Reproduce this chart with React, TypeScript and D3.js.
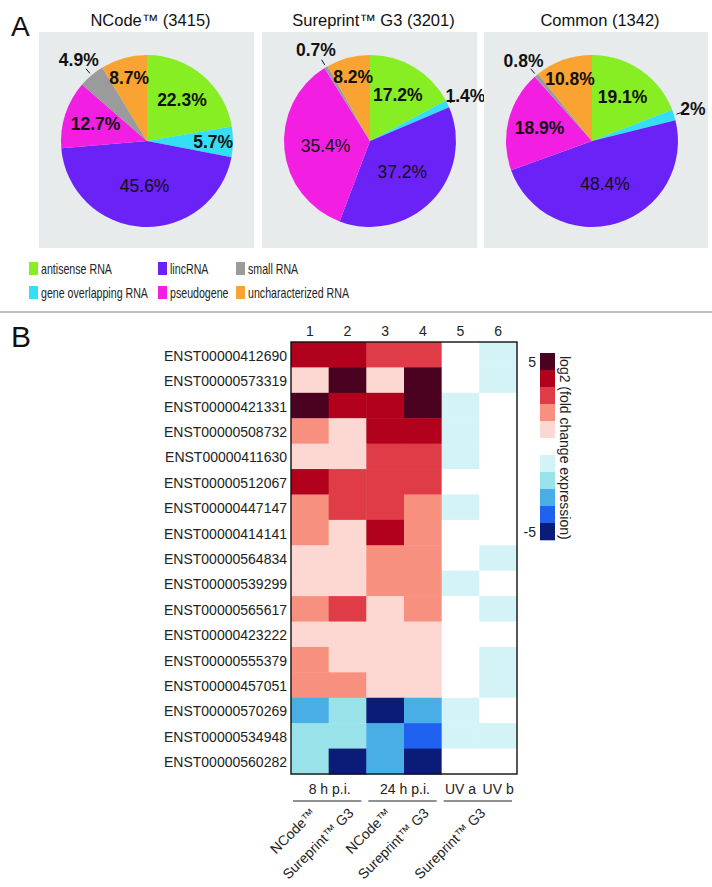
import React from "react";
import * as d3 from "d3";

// ---------- Panel A data ----------
const categories = [
  "antisense RNA",
  "gene overlapping RNA",
  "lincRNA",
  "pseudogene",
  "small RNA",
  "uncharacterized RNA",
];
const categoryColors = ["#86ee22", "#34def6", "#6b22f6", "#f21ee2", "#9b9b9b", "#f8a332"];
const pieTitles = ["NCode\u2122 (3415)", "Sureprint\u2122 G3 (3201)", "Common (1342)"];
const ncodeShares = [22.3, 5.7, 45.6, 12.7, 4.9, 8.7];
const sureprintShares = [17.2, 1.4, 37.2, 35.4, 0.7, 8.2];
const commonShares = [19.1, 2, 48.4, 18.9, 0.8, 10.8];
const legendOrder = [0, 2, 4, 1, 3, 5]; // row-major: row1 cols, row2 cols

// ---------- Panel B data ----------
const transcripts = [
  "ENST00000412690",
  "ENST00000573319",
  "ENST00000421331",
  "ENST00000508732",
  "ENST00000411630",
  "ENST00000512067",
  "ENST00000447147",
  "ENST00000414141",
  "ENST00000564834",
  "ENST00000539299",
  "ENST00000565617",
  "ENST00000423222",
  "ENST00000555379",
  "ENST00000457051",
  "ENST00000570269",
  "ENST00000534948",
  "ENST00000560282",
];
const columns = ["1", "2", "3", "4", "5", "6"];
// binned log2 fold change levels (-5..5)
const foldLevels = [
  [4, 4, 3, 3, 0, -1],
  [1, 5, 1, 5, 0, -1],
  [5, 4, 4, 5, -1, 0],
  [2, 1, 4, 4, -1, 0],
  [1, 1, 3, 3, -1, 0],
  [4, 3, 3, 3, 0, 0],
  [2, 3, 3, 2, -1, 0],
  [2, 1, 4, 2, 0, 0],
  [1, 1, 2, 2, 0, -1],
  [1, 1, 2, 2, -1, 0],
  [2, 3, 1, 2, 0, -1],
  [1, 1, 1, 1, 0, 0],
  [2, 1, 1, 1, 0, -1],
  [2, 2, 1, 1, 0, -1],
  [-3, -2, -5, -3, -1, 0],
  [-2, -2, -3, -4, -1, -1],
  [-2, -5, -3, -5, 0, 0],
];
const scaleLevels = [5, 4, 3, 2, 1, 0, -1, -2, -3, -4, -5];
const scaleColors = [
  "#4b0120", "#b1011c", "#df3c48", "#f8907f", "#fdd7d1", "#ffffff",
  "#d3f3f6", "#99e2ea", "#49ade6", "#1f61f0", "#0b1b78",
];
const timeGroups = [
  { label: "8 h p.i.", cols: ["1", "2"] },
  { label: "24 h p.i.", cols: ["3", "4"] },
];
const uvLabels = [
  { label: "UV a", col: "5" },
  { label: "UV b", col: "6" },
];
const bracketGroups = [["1", "2"], ["3", "4"], ["5", "6"]];
const platformLabels = [
  { label: "NCode\u2122", cols: ["1"] },
  { label: "Sureprint\u2122 G3", cols: ["2"] },
  { label: "NCode\u2122", cols: ["3"] },
  { label: "Sureprint\u2122 G3", cols: ["4"] },
  { label: "Sureprint\u2122 G3", cols: ["5", "6"] },
];

const FONT = "'Liberation Sans', Arial, Helvetica, sans-serif";

function Pie({ shares, title, x, w }: { shares: number[]; title: string; x: number; w: number }) {
  const R = 86;
  const cx = x + 108;
  const cy = 141;
  const pie = d3.pie<number>().sort(null).value((d) => d)(shares);
  const arc = d3.arc<d3.PieArcDatum<number>>().innerRadius(0).outerRadius(R);
  const labelR = (v: number) => (v < 5 ? 1.23 : v > 30 ? 0.52 : v < 11 ? 0.77 : 0.63) * R;
  return (
    <g>
      <rect x={x} y={32} width={w} height={216} fill="#e8ebeb" />
      <text x={x + w / 2 + 4} y={26} textAnchor="middle" fontSize={16.5} fill="#111">
        {title}
      </text>
      <g transform={`translate(${cx},${cy})`}>
        {pie.map((d, i) => (
          <path key={i} d={arc(d) || ""} fill={categoryColors[i]} />
        ))}
        {pie.map((d, i) => {
          const a = (d.startAngle + d.endAngle) / 2;
          const sx = Math.sin(a);
          const sy = -Math.cos(a);
          const r = labelR(d.data);
          const outside = d.data < 5;
          return (
            <g key={"l" + i}>
              {outside && (
                <line
                  x1={sx * R * 1.03}
                  y1={sy * R * 1.03}
                  x2={sx * R * 1.1}
                  y2={sy * R * 1.1}
                  stroke="#111"
                  strokeWidth={1}
                />
              )}
              <text
                x={sx * r}
                y={sy * r}
                dy="0.36em"
                textAnchor="middle"
                fontSize={17.5}
                fontWeight={d.data > 30 ? "normal" : "bold"}
                fill="#111"
              >
                {`${d.data}%`}
              </text>
            </g>
          );
        })}
      </g>
    </g>
  );
}

export default function App() {
  const panels = [
    { shares: ncodeShares, x: 39, w: 215 },
    { shares: sureprintShares, x: 262, w: 215 },
    { shares: commonShares, x: 484, w: 224 },
  ];
  const legendCols = [29, 158, 236];
  const legendRows = [262, 286];

  const xB = d3.scaleBand<string>().domain(columns).range([291, 517]);
  const yB = d3.scaleBand<string>().domain(transcripts).range([342, 774]);
  const color = d3.scaleOrdinal<number, string>().domain(scaleLevels).range(scaleColors);
  const yScale = d3.scaleBand<number>().domain(scaleLevels).range([353, 540]);
  const colCenter = (cols: string[]) =>
    d3.mean(cols, (c) => (xB(c) as number) + xB.bandwidth() / 2) as number;

  return (
    <svg
      width={712}
      height={887}
      style={{ position: "absolute", left: 0, top: 0, background: "#fff" }}
      fontFamily={FONT}
    >
      <rect width={712} height={887} fill="#fff" />
      <text x={11} y={36} fontSize={28} fill="#111">A</text>
      {panels.map((p, i) => (
        <Pie key={i} shares={p.shares} title={pieTitles[i]} x={p.x} w={p.w} />
      ))}
      {legendOrder.map((ci, k) => {
        const col = k % 3;
        const row = Math.floor(k / 3);
        const lx = legendCols[col];
        const ly = legendRows[row];
        return (
          <g key={ci}>
            <rect x={lx} y={ly} width={9} height={13} fill={categoryColors[ci]} />
            <text
              transform={`translate(${lx + 12},${ly + 11.5}) scale(0.76,1)`}
              fontSize={14}
              fill="#222"
            >
              {categories[ci]}
            </text>
          </g>
        );
      })}

      <line x1={0} x2={712} y1={312} y2={312} stroke="#a8a8a8" strokeWidth={1.5} />

      <text x={11} y={347} fontSize={30} fill="#111">B</text>

      {/* column headers */}
      {columns.map((c) => (
        <text key={c} x={colCenter([c])} y={336} textAnchor="middle" fontSize={14} fill="#222">
          {c}
        </text>
      ))}
      {/* row labels */}
      {transcripts.map((t) => (
        <text
          key={t}
          x={287}
          y={(yB(t) as number) + yB.bandwidth() / 2 + 6}
          textAnchor="end"
          fontSize={14}
          fill="#222"
        >
          {t}
        </text>
      ))}
      {/* cells */}
      {transcripts.map((t, ri) =>
        columns.map((c, ci) => (
          <rect
            key={t + c}
            x={xB(c)}
            y={yB(t)}
            width={xB.bandwidth() + 0.5}
            height={yB.bandwidth() + 0.5}
            fill={color(foldLevels[ri][ci])}
          />
        ))
      )}
      <rect x={291} y={342} width={226} height={432} fill="none" stroke="#111" strokeWidth={1.4} />

      {/* colour scale */}
      {scaleLevels.map((lv) => (
        <rect
          key={lv}
          x={540}
          y={yScale(lv)}
          width={15}
          height={yScale.bandwidth() + 0.3}
          fill={color(lv)}
        />
      ))}
      <text x={536} y={(yScale(5) as number) + yScale.bandwidth() / 2 + 5} textAnchor="end" fontSize={14} fill="#222">5</text>
      <text x={536} y={(yScale(-5) as number) + yScale.bandwidth() / 2 + 5} textAnchor="end" fontSize={14} fill="#222">-5</text>
      <text transform="translate(560,356) rotate(90)" fontSize={14} fill="#222">
        log2 (fold change expression)
      </text>

      {/* bottom annotations */}
      {timeGroups.map((g) => (
        <text key={g.label} x={colCenter(g.cols) + 1} y={794} textAnchor="middle" fontSize={14} fill="#222">
          {g.label}
        </text>
      ))}
      {uvLabels.map((g) => (
        <text key={g.label} x={colCenter([g.col])} y={794} textAnchor="middle" fontSize={14} fill="#222">
          {g.label}
        </text>
      ))}
      {bracketGroups.map((g, i) => (
        <line
          key={i}
          x1={(xB(g[0]) as number) + 2}
          x2={(xB(g[1]) as number) + xB.bandwidth() - 5}
          y1={801}
          y2={801}
          stroke="#222"
          strokeWidth={1}
        />
      ))}
      {platformLabels.map((p, i) => (
        <text
          key={i}
          transform={`translate(${colCenter(p.cols) + 7},814) rotate(-45)`}
          textAnchor="end"
          fontSize={14}
          fill="#222"
        >
          {p.label}
        </text>
      ))}
    </svg>
  );
}
